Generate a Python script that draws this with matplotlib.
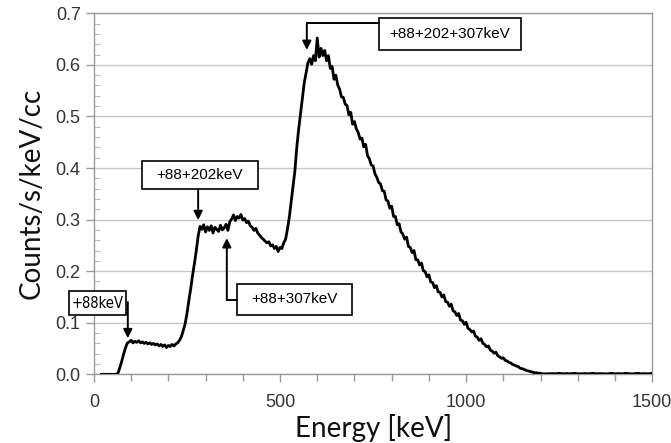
import numpy as np
import matplotlib.pyplot as plt
from matplotlib.patches import Rectangle

# spectrum, 5 keV steps from 20 to 1215 keV
energy = np.arange(20, 1220, 5)
counts = [
    0.000, 0.000, 0.000, 0.000, 0.000, 0.000, 0.000, 0.000, 0.000, 0.003,
    0.014, 0.026, 0.040, 0.052, 0.061, 0.063, 0.066, 0.061, 0.064, 0.062,
    0.065, 0.061, 0.063, 0.060, 0.062, 0.059, 0.061, 0.058, 0.060, 0.057,
    0.059, 0.055, 0.058, 0.054, 0.057, 0.052, 0.056, 0.054, 0.058, 0.055,
    0.059, 0.061, 0.066, 0.073, 0.085, 0.098, 0.118, 0.143, 0.166, 0.192,
    0.215, 0.240, 0.268, 0.287, 0.281, 0.290, 0.276, 0.286, 0.279, 0.288,
    0.274, 0.285, 0.281, 0.277, 0.289, 0.280, 0.284, 0.291, 0.279, 0.296,
    0.301, 0.309, 0.298, 0.306, 0.303, 0.310, 0.299, 0.302, 0.294, 0.297,
    0.288, 0.285, 0.279, 0.283, 0.274, 0.270, 0.265, 0.262, 0.258, 0.255,
    0.257, 0.249, 0.251, 0.244, 0.248, 0.238, 0.246, 0.244, 0.255, 0.262,
    0.282, 0.305, 0.335, 0.365, 0.395, 0.440, 0.475, 0.505, 0.535, 0.565,
    0.585, 0.604, 0.612, 0.601, 0.618, 0.608, 0.652, 0.615, 0.632, 0.618,
    0.628, 0.608, 0.618, 0.593, 0.597, 0.572, 0.580, 0.561, 0.553, 0.538,
    0.537, 0.524, 0.521, 0.503, 0.508, 0.485, 0.490, 0.476, 0.469, 0.456,
    0.458, 0.441, 0.446, 0.424, 0.418, 0.406, 0.404, 0.389, 0.382, 0.372,
    0.369, 0.356, 0.355, 0.338, 0.336, 0.322, 0.326, 0.306, 0.306, 0.290,
    0.292, 0.276, 0.272, 0.262, 0.266, 0.248, 0.246, 0.236, 0.240, 0.222,
    0.222, 0.212, 0.216, 0.201, 0.199, 0.189, 0.193, 0.179, 0.178, 0.168,
    0.172, 0.160, 0.159, 0.150, 0.154, 0.141, 0.140, 0.132, 0.136, 0.123,
    0.121, 0.114, 0.118, 0.105, 0.104, 0.097, 0.101, 0.089, 0.087, 0.082,
    0.084, 0.074, 0.072, 0.066, 0.069, 0.060, 0.058, 0.053, 0.055, 0.047,
    0.045, 0.041, 0.043, 0.036, 0.034, 0.031, 0.032, 0.027, 0.026, 0.023,
    0.022, 0.019, 0.018, 0.016, 0.015, 0.012, 0.011, 0.010, 0.008, 0.007,
    0.006, 0.005, 0.004, 0.003, 0.003, 0.002, 0.002, 0.001, 0.001, 0.001,
]

# flat tail, 10 keV steps
tail_energy = np.arange(1220, 1510, 10)
tail_counts = [
    0.001, 0.0015, 0.001, 0.002, 0.001, 0.0015, 0.001, 0.002, 0.001, 0.001,
    0.0015, 0.001, 0.002, 0.001, 0.0015, 0.001, 0.001, 0.002, 0.001, 0.0015,
    0.001, 0.002, 0.001, 0.001, 0.002, 0.001, 0.0015, 0.001, 0.002,
]

x = np.concatenate([energy, tail_energy])
y = np.concatenate([counts, tail_counts])

xticks = [0, 500, 1000, 1500]
yticks = [0.0, 0.1, 0.2, 0.3, 0.4, 0.5, 0.6, 0.7]

fig = plt.figure(figsize=(6.71, 4.43), dpi=100)
ax = fig.add_axes([0.140, 0.155, 0.832, 0.815])

ax.plot(x, y, color='black', lw=2.0, zorder=3)

ax.set_xlim(0, 1500)
ax.set_ylim(0, 0.7)
ax.set_xticks(xticks)
ax.set_xticks(np.arange(0, 1600, 100), minor=True)
ax.set_yticks(yticks)
ax.set_yticks(np.arange(0, 0.71, 0.02), minor=True)
ax.set_yticklabels(['%.1f' % v for v in yticks])
ax.grid(axis='y', color='#c8c8c8', lw=1.0, zorder=0)

for s in ax.spines.values():
    s.set_color('#999999')
    s.set_linewidth(1.0)

for lab in ax.get_xticklabels() + ax.get_yticklabels():
    lab.set_fontfamily('Liberation Sans')
    lab.set_fontsize(13)
ax.tick_params(axis='both', which='major', colors='#999999', labelcolor='#333333',
               length=6, width=1.0, direction='out')
ax.tick_params(axis='y', which='minor', colors='#bbbbbb', length=4, width=0.8, direction='in')
ax.tick_params(axis='x', which='minor', colors='#999999', length=5, width=1.0, direction='out')
ax.tick_params(axis='x', pad=8)

ax.set_xlabel('Energy [keV]', family='Lato', fontsize=20, color='#111111', labelpad=2)
ax.set_ylabel('Counts/s/keV/cc', family='Lato', fontsize=20, color='#111111', labelpad=8)

# annotation boxes: label, (x0, x1, y0, y1) in data units
annot_labels = ['+88keV', '+88+202keV', '+88+307keV', '+88+202+307keV']
boxes = [(-67, 86, 0.115, 0.161), (128, 440, 0.359, 0.413),
         (385, 693, 0.115, 0.176), (766, 1148, 0.628, 0.690)]
for lab, (x0, x1, y0, y1) in zip(annot_labels, boxes):
    ax.add_patch(Rectangle((x0, y0), x1 - x0, y1 - y0, fc='white', ec='black',
                           lw=1.2, zorder=5, clip_on=False))
    if lab == '+88keV':
        kw = dict(family='DejaVu Sans', fontstretch='condensed', fontsize=10.5)
    else:
        kw = dict(family='Liberation Sans', fontsize=11)
    ax.text((x0 + x1) / 2, (y0 + y1) / 2, lab, ha='center', va='center',
            zorder=6, clip_on=False, **kw)

arrow = dict(arrowstyle='-|>', color='black', lw=1.4, mutation_scale=13, shrinkA=0, shrinkB=0)

ax.annotate('', xy=(91, 0.070), xytext=(91, 0.140), arrowprops=arrow, annotation_clip=False, zorder=6)
ax.annotate('', xy=(280, 0.299), xytext=(280, 0.359), arrowprops=arrow, zorder=6)

ax.plot([385, 357], [0.144, 0.144], color='black', lw=1.4, zorder=6)
ax.annotate('', xy=(357, 0.264), xytext=(357, 0.144), arrowprops=arrow, zorder=6)

ax.plot([766, 572], [0.681, 0.681], color='black', lw=1.4, zorder=6)
ax.annotate('', xy=(572, 0.629), xytext=(572, 0.681), arrowprops=arrow, zorder=6)

fig.savefig('out.png', dpi=100)
